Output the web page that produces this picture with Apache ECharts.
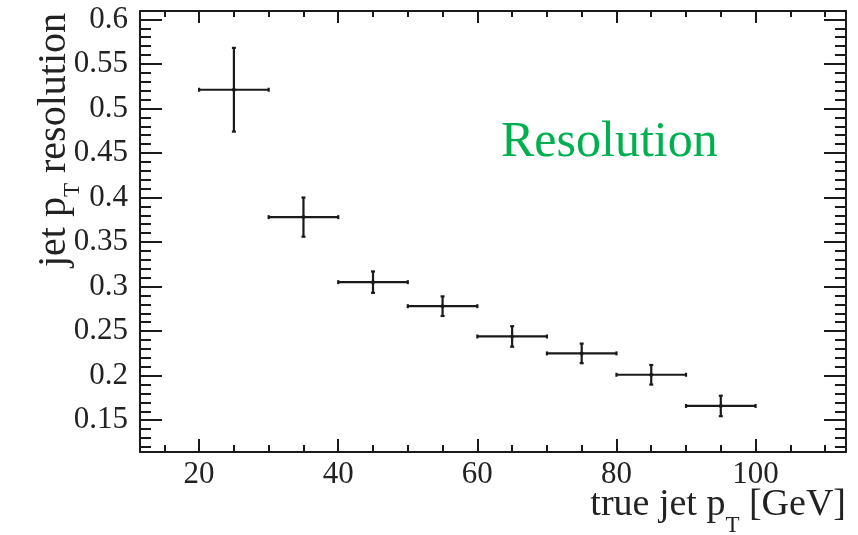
<!DOCTYPE html>
<html><head><meta charset="utf-8">
<script src="https://cdn.jsdelivr.net/npm/echarts@6/dist/echarts.min.js"></script>
<style>html,body{margin:0;padding:0;background:#fff}#c{width:858px;height:535px}</style>
</head><body><div id="c"></div>
<script>
// ---- data ----
const ptCenter   = [25, 35, 45, 55, 65, 75, 85, 95];
const ptLow      = [20, 30, 40, 50, 60, 70, 80, 90];
const ptHigh     = [30, 40, 50, 60, 70, 80, 90, 100];
const resolution = [0.521, 0.378, 0.305, 0.278, 0.244, 0.225, 0.201, 0.166];
const resError   = [0.047, 0.022, 0.012, 0.011, 0.0115, 0.011, 0.011, 0.0115];
const xTickLabels = ['20', '40', '60', '80', '100'];
const yTickLabels = ['0.15', '0.2', '0.25', '0.3', '0.35', '0.4', '0.45', '0.5', '0.55', '0.6'];
const xRange = [11.5, 113];
const yRange = [0.1143, 0.6094];

const FONT = "'Liberation Serif', 'Times New Roman', serif";
const INK = '#1a1a1a';

const data = ptCenter.map((x, i) => [x, resolution[i], ptLow[i], ptHigh[i],
  resolution[i] - resError[i], resolution[i] + resError[i]]);

function pickLabel(list) {
  return function (v) {
    for (const s of list) { if (Math.abs(parseFloat(s) - v) < 1e-6) return s; }
    return '';
  };
}

function renderItem(params, api) {
  const x = api.value(0), y = api.value(1);
  const c = api.coord([x, y]);
  const l = api.coord([api.value(2), y]);
  const h = api.coord([api.value(3), y]);
  const b = api.coord([x, api.value(4)]);
  const t = api.coord([x, api.value(5)]);
  const st = { stroke: INK, lineWidth: 2.2 };
  const cap = 2;
  return {
    type: 'group',
    children: [
      { type: 'line', shape: { x1: l[0], y1: c[1], x2: h[0], y2: c[1] }, style: st },
      { type: 'line', shape: { x1: c[0], y1: t[1], x2: c[0], y2: b[1] }, style: st },
      { type: 'line', shape: { x1: l[0], y1: c[1] - cap, x2: l[0], y2: c[1] + cap }, style: st },
      { type: 'line', shape: { x1: h[0], y1: c[1] - cap, x2: h[0], y2: c[1] + cap }, style: st },
      { type: 'line', shape: { x1: c[0] - cap, y1: t[1], x2: c[0] + cap, y2: t[1] }, style: st },
      { type: 'line', shape: { x1: c[0] - cap, y1: b[1], x2: c[0] + cap, y2: b[1] }, style: st },
      { type: 'circle', shape: { cx: c[0], cy: c[1], r: 2 }, style: { fill: INK } }
    ]
  };
}

const axisLine = { show: true, onZero: false, lineStyle: { color: INK, width: 2 } };

const chart = echarts.init(document.getElementById('c'), null, { renderer: 'canvas' });
chart.setOption({
  animation: false,
  backgroundColor: '#fff',
  title: {
    text: 'Resolution', left: 501, top: 118, padding: 0,
    textStyle: { color: '#00b050', fontFamily: FONT, fontSize: 50, fontWeight: 'normal', lineHeight: 50 }
  },
  grid: { left: 140, right: 12, top: 11, bottom: 83, containLabel: false, outerBoundsMode: 'none' },
  xAxis: [{
    type: 'value', position: 'bottom', min: xRange[0], max: xRange[1], splitNumber: 5,
    axisLine: axisLine,
    axisTick: { show: true, inside: true, length: 13, lineStyle: { color: INK, width: 2 } },
    minorTick: { show: true, splitNumber: 4, length: 7, lineStyle: { color: INK, width: 2 } },
    splitLine: { show: false },
    axisLabel: { show: true, margin: 7, color: '#222', fontFamily: FONT, fontSize: 31,
      showMinLabel: false, showMaxLabel: false, formatter: pickLabel(xTickLabels) },
    name: '{m|true jet p}{s|T}{m| [GeV]}',
    nameLocation: 'end', nameGap: 0, nameMoveOverlap: false,
    nameTextStyle: {
      align: 'right', verticalAlign: 'top', padding: [34, 0, 0, 0],
      color: '#222', fontFamily: FONT,
      rich: {
        m: { fontSize: 38, lineHeight: 38, verticalAlign: 'top', fontFamily: FONT, color: '#222' },
        s: { fontSize: 23, lineHeight: 23, verticalAlign: 'top', padding: [28, 0, 0, 0], fontFamily: FONT, color: '#222' }
      }
    }
  }, {
    type: 'value', position: 'top', min: xRange[0], max: xRange[1], splitNumber: 5,
    axisLine: axisLine,
    axisTick: { show: true, inside: true, length: 12, lineStyle: { color: INK, width: 2 } },
    minorTick: { show: true, splitNumber: 4, length: 6, lineStyle: { color: INK, width: 2 } },
    splitLine: { show: false },
    axisLabel: { show: false }
  }],
  yAxis: [{
    type: 'value', position: 'left', min: yRange[0], max: yRange[1], splitNumber: 10,
    axisLine: axisLine,
    axisTick: { show: true, inside: true, length: 22, lineStyle: { color: INK, width: 2 } },
    minorTick: { show: true, splitNumber: 5, length: 11, lineStyle: { color: INK, width: 2 } },
    splitLine: { show: false },
    axisLabel: { show: true, margin: 12, color: '#222', fontFamily: FONT, fontSize: 31,
      showMinLabel: false, showMaxLabel: false, formatter: pickLabel(yTickLabels) },
    name: '{m|jet p}{s|T}{m| resolution}',
    nameLocation: 'end', nameGap: -2, nameRotate: 90, nameMoveOverlap: false,
    nameTextStyle: {
      align: 'right', verticalAlign: 'bottom', padding: [0, 0, 66, 0],
      color: '#222', fontFamily: FONT,
      rich: {
        m: { fontSize: 40, lineHeight: 40, verticalAlign: 'top', fontFamily: FONT, color: '#222' },
        s: { fontSize: 23, lineHeight: 23, verticalAlign: 'top', padding: [27, 0, 0, 0], fontFamily: FONT, color: '#222' }
      }
    }
  }, {
    type: 'value', position: 'right', min: yRange[0], max: yRange[1], splitNumber: 10,
    axisLine: axisLine,
    axisTick: { show: true, inside: true, length: 22, lineStyle: { color: INK, width: 2 } },
    minorTick: { show: true, splitNumber: 5, length: 11, lineStyle: { color: INK, width: 2 } },
    splitLine: { show: false },
    axisLabel: { show: false }
  }],
  series: [{
    type: 'custom', name: 'resolution', xAxisIndex: 0, yAxisIndex: 0,
    renderItem: renderItem, data: data,
    encode: { x: [0, 2, 3], y: [1, 4, 5] }
  }]
});
</script></body></html>
